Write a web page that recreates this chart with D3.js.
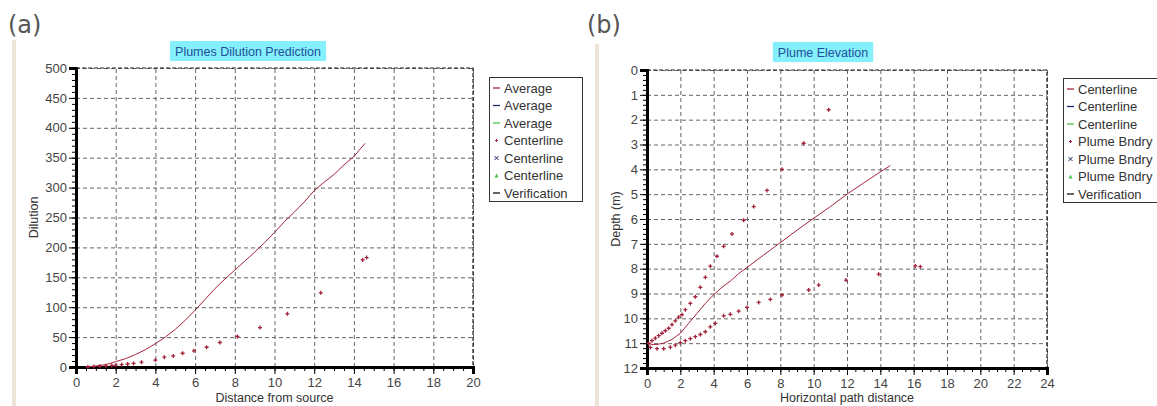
<!DOCTYPE html>
<html lang="en">
  <head>
    <script src="https://d3js.org/d3.v7.min.js"></script>
    <style>
      body { margin: 0; background: #fff; }
      text { font-family: "Liberation Sans", Arial, sans-serif; }
      .tick text { font-size: 13px; fill: #444; }
      .gridlines line { stroke: #666; stroke-dasharray: 4 3; }
      .gridlines .domain { stroke: none; }
      .minor .domain { stroke: none; }
      .legend-text { font-size: 13px; fill: #333; }
      .axis-label { font-size: 12.5px; fill: #333; }
      .panel-tag { font-family: "DejaVu Sans", sans-serif; font-size: 24px; fill: #555; }
    </style>
  </head>
  <body>
    <svg id="chart" width="1157" height="406"></svg>
    <script>
      // (a) Plumes Dilution Prediction
      const dilutionXTicks = [0, 2, 4, 6, 8, 10, 12, 14, 16, 18, 20];
      const dilutionYTicks = [0, 50, 100, 150, 200, 250, 300, 350, 400, 450, 500];
      const dilutionLegend = ["Average", "Average", "Average", "Centerline", "Centerline", "Centerline", "Verification"];
      const averageDilution = [
        [0.5, 0], [1, 1.5], [1.5, 4], [2, 9], [2.5, 14], [3, 21], [3.5, 29], [4, 39],
        [4.5, 50], [5, 63], [5.5, 78], [6, 95], [6.5, 113], [7, 131], [7.5, 147],
        [8, 162], [8.5, 177], [9, 192], [9.5, 208], [10, 225], [10.5, 243], [11, 259],
        [11.5, 276], [12, 295], [12.5, 309], [13, 322], [13.5, 338], [14, 352], [14.56, 374]
      ];
      const centerlineDilution = [
        [0.6, 0.5], [0.9, 1], [1.2, 1.5], [1.5, 2], [1.8, 2.5], [2.0, 3], [2.3, 4],
        [2.6, 5], [2.9, 6], [3.3, 8], [4.0, 11.5], [4.45, 16.5], [4.9, 18.5], [5.37, 23],
        [5.94, 27], [6.58, 33], [7.25, 41], [8.13, 51], [9.27, 66], [10.65, 89],
        [12.33, 124], [14.44, 179], [14.64, 183]
      ];

      // (b) Plume Elevation
      const elevationXTicks = [0, 2, 4, 6, 8, 10, 12, 14, 16, 18, 20, 22, 24];
      const elevationYTicks = [0, 1, 2, 3, 4, 5, 6, 7, 8, 9, 10, 11, 12];
      const elevationLegend = ["Centerline", "Centerline", "Centerline", "Plume Bndry", "Plume Bndry", "Plume Bndry", "Verification"];
      const centerlineDepth = [
        [0, 11.0], [0.3, 11.05], [0.6, 11.05], [1.0, 11.0], [1.5, 10.85], [2.0, 10.6],
        [2.5, 10.2], [3.0, 9.8], [3.5, 9.4], [4.0, 9.05], [4.5, 8.75], [5.0, 8.5],
        [5.5, 8.2], [6.0, 7.95], [7.0, 7.45], [8.0, 6.95], [9.0, 6.45], [10.0, 5.97],
        [11.0, 5.5], [12.0, 5.0], [13.0, 4.55], [14.0, 4.1], [14.6, 3.85]
      ];
      const upperBoundary = [
        [0.1, 11.0], [0.3, 10.9], [0.5, 10.8], [0.7, 10.7], [0.9, 10.6], [1.1, 10.5],
        [1.3, 10.4], [1.5, 10.25], [1.7, 10.1], [1.9, 9.95], [2.1, 9.85], [2.3, 9.65],
        [2.6, 9.4], [2.9, 9.13], [3.2, 8.75], [3.5, 8.35], [3.8, 7.9], [4.2, 7.5],
        [4.6, 7.1], [5.1, 6.6], [5.8, 6.05], [6.4, 5.5], [7.2, 4.85], [8.1, 4.0],
        [9.4, 2.95], [10.9, 1.6]
      ];
      const lowerBoundary = [
        [0.2, 11.17], [0.6, 11.22], [1.0, 11.22], [1.4, 11.16], [1.7, 11.08], [2.0, 10.98],
        [2.3, 10.9], [2.6, 10.82], [2.9, 10.74], [3.2, 10.65], [3.5, 10.54], [3.8, 10.34],
        [4.1, 10.2], [4.6, 9.9], [5.0, 9.84], [5.5, 9.71], [6.0, 9.56], [6.7, 9.36],
        [7.4, 9.24], [8.1, 9.06], [9.7, 8.86], [10.3, 8.66], [11.94, 8.46], [13.9, 8.22],
        [16.1, 7.89], [16.4, 7.92]
      ];

      const red = "#a3243c";
      const svg = d3.select("#chart");

      function drawPanel(p) {
        const x = d3.scaleLinear().domain(p.xDomain).range([p.left, p.right]);
        const y = d3.scaleLinear().domain(p.yDomain).range([p.bottom, p.top]);
        const g = svg.append("g");

        // beige strip at left of the panel image
        g.append("rect")
          .attr("x", p.stripX).attr("y", p.stripY)
          .attr("width", 4).attr("height", 406 - p.stripY)
          .attr("fill", "#ece5d5");

        svg.append("text")
          .attr("class", "panel-tag")
          .attr("x", p.tagX).attr("y", 33)
          .text(p.tag);

        // title
        const title = g.append("text")
          .attr("x", p.titleX).attr("y", p.titleY)
          .attr("text-anchor", "middle")
          .style("font-size", "12.5px")
          .attr("fill", "#1f4f9a")
          .text(p.title);
        const bb = title.node().getBBox();
        g.insert("rect", "text")
          .attr("x", bb.x - 5).attr("y", p.titleY - 15)
          .attr("width", bb.width + 10).attr("height", 20)
          .attr("fill", "#84f0fb");

        // gridlines
        g.append("g")
          .attr("class", "gridlines")
          .attr("transform", `translate(0,${p.bottom})`)
          .call(d3.axisBottom(x).tickValues(p.xTicks).tickSize(-(p.bottom - p.top)).tickFormat(""));
        g.append("g")
          .attr("class", "gridlines")
          .attr("transform", `translate(${p.left},0)`)
          .call(d3.axisLeft(y).tickValues(p.yTicks).tickSize(-(p.right - p.left)).tickFormat(""));

        // dashed top and right border
        g.append("path")
          .attr("d", `M${p.left},${p.top}H${p.right}V${p.bottom}`)
          .attr("fill", "none")
          .attr("stroke", "#222")
          .attr("stroke-dasharray", "4 2")
          .attr("stroke-width", 1.2);

        // minor ticks
        g.append("g")
          .attr("class", "minor")
          .attr("transform", `translate(0,${p.bottom})`)
          .call(d3.axisBottom(x).tickValues(d3.range(p.xDomain[0], p.xDomain[1] + 0.001, p.xMinor)).tickSize(4).tickFormat(""));
        g.append("g")
          .attr("class", "minor")
          .attr("transform", `translate(${p.left},0)`)
          .call(d3.axisLeft(y).tickValues(d3.range(Math.min(...p.yDomain), Math.max(...p.yDomain) + 0.001, p.yMinor)).tickSize(4).tickFormat(""));

        // major axes
        const xAxis = g.append("g")
          .attr("transform", `translate(0,${p.bottom})`)
          .call(d3.axisBottom(x).tickValues(p.xTicks).tickSize(7).tickPadding(4));
        xAxis.select(".domain").attr("stroke-width", 3);
        const yAxis = g.append("g")
          .attr("transform", `translate(${p.left},0)`)
          .call(d3.axisLeft(y).tickValues(p.yTicks).tickSize(7).tickPadding(2));
        yAxis.select(".domain").attr("stroke-width", 3);

        // axis labels
        g.append("text")
          .attr("class", "axis-label")
          .attr("text-anchor", "middle")
          .attr("x", (p.left + p.right) / 2)
          .attr("y", 402)
          .text(p.xLabel);
        g.append("text")
          .attr("class", "axis-label")
          .attr("text-anchor", "middle")
          .attr("transform", `translate(${p.yLabelX},${(p.top + p.bottom) / 2}) rotate(-90)`)
          .text(p.yLabel);

        // line series
        const line = d3.line().x((d) => x(d[0])).y((d) => y(d[1]));
        g.append("path")
          .datum(p.line)
          .attr("d", line)
          .attr("fill", "none")
          .attr("stroke", red)
          .attr("stroke-width", 1);

        // point series
        p.points.forEach((pts) => {
          g.selectAll(null)
            .data(pts)
            .enter()
            .append("path")
            .attr("transform", (d) => `translate(${x(d[0])},${y(d[1])})`)
            .attr("d", "M-2,0H2M0,-2V2")
            .attr("stroke", red)
            .attr("stroke-width", 1.3);
        });

        // legend
        const lg = svg.append("g").attr("transform", `translate(${p.legendX},${p.legendY})`);
        lg.append("rect")
          .attr("x", 0.5).attr("y", 0.5)
          .attr("width", p.legendW).attr("height", 124)
          .attr("fill", "#fff")
          .attr("stroke", "#333");
        const symColors = [red, "#1b2a6b", "#4cc04c", red, "#1b2a6b", "#4cc04c", "#111"];
        p.legend.forEach((name, i) => {
          const yy = 11 + i * 17.5;
          const c = symColors[i];
          if (i < 3 || i === 6) {
            lg.append("line")
              .attr("x1", 4).attr("x2", 11)
              .attr("y1", yy).attr("y2", yy)
              .attr("stroke", c).attr("stroke-width", 1.3);
          } else if (i === 3) {
            lg.append("path").attr("transform", `translate(7.5,${yy})`)
              .attr("d", "M-1.5,0H1.5M0,-1.5V1.5").attr("stroke", c);
          } else if (i === 4) {
            lg.append("path").attr("transform", `translate(7.5,${yy})`)
              .attr("d", "M-2,-2L2,2M-2,2L2,-2").attr("stroke", c);
          } else {
            lg.append("path").attr("transform", `translate(7.5,${yy})`)
              .attr("d", "M0,-2L2,2H-2Z").attr("fill", c);
          }
          lg.append("text")
            .attr("class", "legend-text")
            .attr("x", 15).attr("y", yy)
            .attr("dy", "0.35em")
            .text(name);
        });
      }

      drawPanel({
        tag: "(a)", tagX: 8, stripX: 12, stripY: 40,
        title: "Plumes Dilution Prediction", titleX: 248, titleY: 56,
        left: 76, right: 473, top: 68, bottom: 367,
        xDomain: [0, 20], yDomain: [0, 500], xMinor: 0.5, yMinor: 10,
        xTicks: dilutionXTicks, yTicks: dilutionYTicks,
        xLabel: "Distance from source", yLabel: "Dilution", yLabelX: 38,
        line: averageDilution, points: [centerlineDilution],
        legend: dilutionLegend, legendX: 489, legendY: 77, legendW: 93
      });

      drawPanel({
        tag: "(b)", tagX: 587, stripX: 595, stripY: 44,
        title: "Plume Elevation", titleX: 823, titleY: 57,
        left: 647, right: 1047, top: 70, bottom: 368,
        xDomain: [0, 24], yDomain: [12, 0], xMinor: 0.5, yMinor: 0.2,
        xTicks: elevationXTicks, yTicks: elevationYTicks,
        xLabel: "Horizontal path distance", yLabel: "Depth (m)", yLabelX: 620,
        line: centerlineDepth, points: [upperBoundary, lowerBoundary],
        legend: elevationLegend, legendX: 1063, legendY: 78, legendW: 100
      });
    </script>
  </body>
</html>
